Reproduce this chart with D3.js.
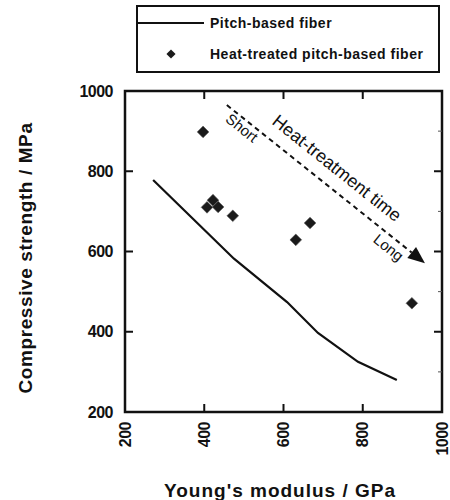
<!DOCTYPE html>
<html>
<head>
<meta charset="utf-8">
<script src="https://cdn.jsdelivr.net/npm/d3@7"></script>
<style>
  body { margin: 0; background: #fff; }
  svg { font-family: "Liberation Sans", Arial, sans-serif; }
  .tick_labels { font-size: 16px; font-weight: bold; fill: #111; }
  .axis_titles { font-size: 19px; font-weight: bold; fill: #111; }
  .legend_labels { font-size: 14px; font-weight: bold; fill: #111; letter-spacing: 0.5px; }
  .note { fill: #111; }
</style>
</head>
<body>
<svg id="chart" width="450" height="500"></svg>
<script>
// pitch-based fiber (line)
var pitchModulus = [271, 475, 609, 687, 788, 886];
var pitchStrength = [778, 582, 474, 397, 325, 280];
// heat-treated pitch-based fiber (diamonds)
var heatModulus = [397, 407, 422, 435, 472, 631, 667, 924];
var heatStrength = [898, 710, 728, 711, 689, 629, 671, 471];
var xTicks = [200, 400, 600, 800, 1000];
var yTicks = [200, 400, 600, 800, 1000];
var yMinor = [300, 500, 700, 900];
var legendLabels = ["Pitch-based fiber", "Heat-treated pitch-based fiber"];
// arrow annotation, in data units
var arrowStart = [457, 965];
var arrowEnd = [957, 571];

var svg = d3.select("#chart");
var x = d3.scaleLinear().domain([200, 1000]).range([125, 442]);
var y = d3.scaleLinear().domain([200, 1000]).range([412, 91]);

/////////////////////////////////////////////////////////////////////////////
// frame + ticks
svg.append("rect")
    .attr("x", x(200)).attr("y", y(1000))
    .attr("width", x(1000) - x(200)).attr("height", y(200) - y(1000))
    .style("fill", "none").style("stroke", "#111").style("stroke-width", 2.5);

var inner = xTicks.slice(1, -1);
svg.selectAll("xtick_bottom").data(inner).enter().append("line")
    .attr("x1", d => x(d)).attr("x2", d => x(d))
    .attr("y1", y(200)).attr("y2", y(200) - 8)
    .style("stroke", "#111").style("stroke-width", 2);
svg.selectAll("xtick_top").data(inner).enter().append("line")
    .attr("x1", d => x(d)).attr("x2", d => x(d))
    .attr("y1", y(1000)).attr("y2", y(1000) + 8)
    .style("stroke", "#111").style("stroke-width", 2);
var yInner = yTicks.slice(1, -1);
svg.selectAll("ytick_left").data(yInner).enter().append("line")
    .attr("x1", x(200)).attr("x2", x(200) + 8)
    .attr("y1", d => y(d)).attr("y2", d => y(d))
    .style("stroke", "#111").style("stroke-width", 2);
svg.selectAll("ytick_right").data(yInner).enter().append("line")
    .attr("x1", x(1000)).attr("x2", x(1000) - 8)
    .attr("y1", d => y(d)).attr("y2", d => y(d))
    .style("stroke", "#111").style("stroke-width", 2);
svg.selectAll("ytick_minor").data(yMinor).enter().append("line")
    .attr("x1", x(1000)).attr("x2", x(1000) - 4)
    .attr("y1", d => y(d)).attr("y2", d => y(d))
    .style("stroke", "#555").style("stroke-width", 1);

svg.selectAll("ylabels").data(yTicks).enter().append("text")
    .attr("class", "tick_labels")
    .attr("x", x(200) - 12)
    .attr("y", d => y(d))
    .attr("dy", "0.35em")
    .style("text-anchor", "end")
    .style("letter-spacing", "-0.5px")
    .text(d => d);
svg.selectAll("xlabels").data(xTicks).enter().append("text")
    .attr("class", "tick_labels")
    .attr("transform", d => "translate(" + x(d) + "," + (y(200) + 10) + ") rotate(-90)")
    .attr("dy", "0.35em")
    .style("text-anchor", "end")
    .style("letter-spacing", "-0.5px")
    .text(d => d);

svg.append("text")
    .attr("class", "axis_titles")
    .attr("x", 280).attr("y", 497)
    .style("text-anchor", "middle")
    .style("letter-spacing", "1px")
    .text("Young's modulus / GPa");
svg.append("text")
    .attr("class", "axis_titles")
    .attr("transform", "translate(32,258) rotate(-90)")
    .style("text-anchor", "middle")
    .style("letter-spacing", "0.6px")
    .text("Compressive strength / MPa");

/////////////////////////////////////////////////////////////////////////////
// data
var pitch = pitchModulus.map((d, i) => [d, pitchStrength[i]]);
svg.append("path")
    .datum(pitch)
    .attr("d", d3.line().x(d => x(d[0])).y(d => y(d[1])))
    .style("fill", "none").style("stroke", "#111").style("stroke-width", 2.2);

var diamond = d3.symbol().type(d3.symbolSquare).size(68);
svg.selectAll("heat_points").data(heatModulus).enter().append("path")
    .attr("d", diamond)
    .attr("transform", (d, i) => "translate(" + x(d) + "," + y(heatStrength[i]) + ") rotate(45)")
    .style("fill", "#1a1a1a").style("stroke", "#555").style("stroke-width", 0.6);

/////////////////////////////////////////////////////////////////////////////
// arrow annotation
var x0 = x(arrowStart[0]), y0 = y(arrowStart[1]);
var x1 = x(arrowEnd[0]), y1 = y(arrowEnd[1]);
var ang = Math.atan2(y1 - y0, x1 - x0);
var deg = ang * 180 / Math.PI;
var headLen = 17;
svg.append("line")
    .attr("x1", x0).attr("y1", y0)
    .attr("x2", x1 - headLen * Math.cos(ang)).attr("y2", y1 - headLen * Math.sin(ang))
    .style("stroke", "#111").style("stroke-width", 2)
    .style("stroke-dasharray", "5,4");
svg.append("path")
    .attr("d", "M0,0 L-" + headLen + ",-7 L-" + headLen + ",7 Z")
    .attr("transform", "translate(" + x1 + "," + y1 + ") rotate(" + deg + ")")
    .style("fill", "#111");

function note(txt, px, py, size) {
  svg.append("text")
      .attr("class", "note")
      .attr("transform", "translate(" + x(px) + "," + y(py) + ") rotate(" + deg + ")")
      .attr("dy", "0.35em")
      .style("text-anchor", "middle")
      .style("font-size", size + "px")
      .text(txt);
}
note("Heat-treatment time", 735, 808, 18);
note("Short", 495, 908, 15);
note("Long", 865, 610, 15);

/////////////////////////////////////////////////////////////////////////////
// legend
svg.append("rect")
    .attr("x", 137).attr("y", 6).attr("width", 302).attr("height", 66)
    .style("fill", "none").style("stroke", "#111").style("stroke-width", 2);
svg.append("line")
    .attr("x1", 137).attr("x2", 204).attr("y1", 23).attr("y2", 23)
    .style("stroke", "#111").style("stroke-width", 2);
svg.append("path")
    .attr("d", d3.symbol().type(d3.symbolSquare).size(42))
    .attr("transform", "translate(171,54) rotate(45)")
    .style("fill", "#1a1a1a");
svg.selectAll("legend_labels").data(legendLabels).enter().append("text")
    .attr("class", "legend_labels")
    .attr("x", 210)
    .attr("y", (d, i) => 23 + i * 31)
    .attr("dy", "0.35em")
    .text(d => d);
</script>
</body>
</html>
